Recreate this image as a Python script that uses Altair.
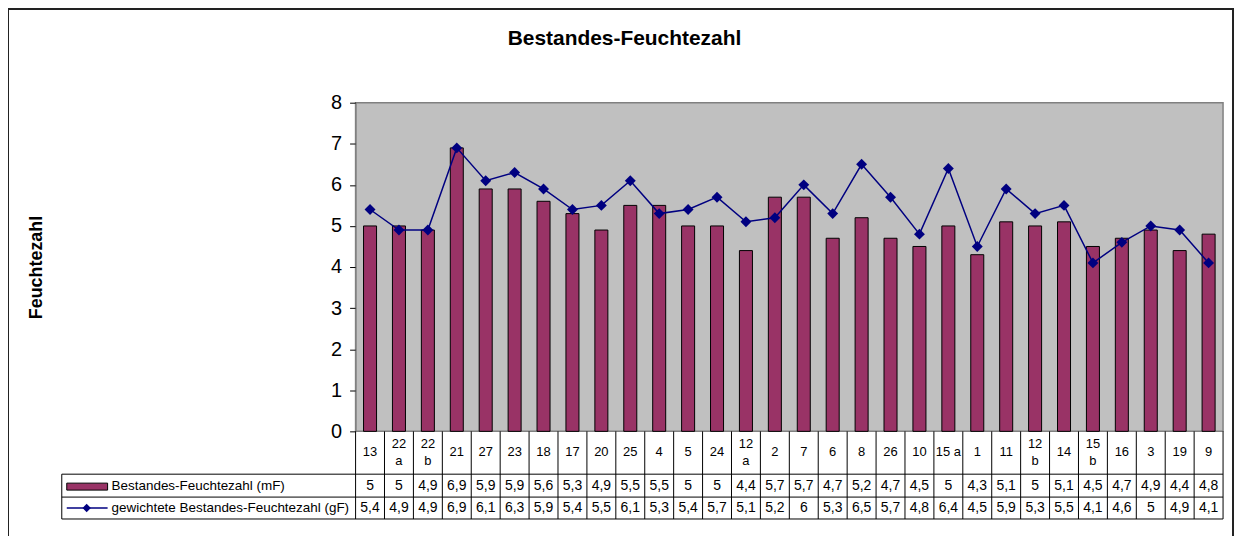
import altair as alt
import pandas as pd

# ---- data ----
categories = ["13", "22 a", "22 b", "21", "27", "23", "18", "17", "20", "25",
              "4", "5", "24", "12 a", "2", "7", "6", "8", "26", "10",
              "15 a", "1", "11", "12 b", "14", "15 b", "16", "3", "19", "9"]
category_labels = ["13", "22\na", "22\nb", "21", "27", "23", "18", "17", "20", "25",
                   "4", "5", "24", "12\na", "2", "7", "6", "8", "26", "10",
                   "15 a", "1", "11", "12\nb", "14", "15\nb", "16", "3", "19", "9"]
mF = [5, 5, 4.9, 6.9, 5.9, 5.9, 5.6, 5.3, 4.9, 5.5,
      5.5, 5, 5, 4.4, 5.7, 5.7, 4.7, 5.2, 4.7, 4.5,
      5, 4.3, 5.1, 5, 5.1, 4.5, 4.7, 4.9, 4.4, 4.8]
gF = [5.4, 4.9, 4.9, 6.9, 6.1, 6.3, 5.9, 5.4, 5.5, 6.1,
      5.3, 5.4, 5.7, 5.1, 5.2, 6, 5.3, 6.5, 5.7, 4.8,
      6.4, 4.5, 5.9, 5.3, 5.5, 4.1, 4.6, 5, 4.9, 4.1]
y_ticks = [0, 1, 2, 3, 4, 5, 6, 7, 8]

title_text = "Bestandes-Feuchtezahl"
y_title = "Feuchtezahl"
legend_mF = "Bestandes-Feuchtezahl (mF)"
legend_gF = "gewichtete Bestandes-Feuchtezahl (gF)"


def de(v):
    return f"{v:g}".replace(".", ",")


df = pd.DataFrame({
    "cat": categories,
    "label": category_labels,
    "mF": mF,
    "gF": gF,
    "mF_label": [de(v) for v in mF],
    "gF_label": [de(v) for v in gF],
})

FONT = "Liberation Sans"
W, H = 871, 330
PAD_I, PAD_O = 0.55, 0.275
step = W / (len(categories) - PAD_I + 2 * PAD_O)
BAR = "#993366"
NAVY = "#000080"

xscale = alt.Scale(domain=categories, paddingInner=PAD_I, paddingOuter=PAD_O)
xenc = alt.X("cat:N", sort=categories, scale=xscale, axis=None)
yscale = alt.Scale(domain=[0, 8], nice=False)

base = alt.Chart(df)

bars = base.mark_bar(fill=BAR, stroke="black", strokeWidth=1).encode(
    x=xenc,
    y=alt.Y("mF:Q", scale=yscale,
            axis=alt.Axis(values=y_ticks, grid=False, labelFontSize=20, labelFont=FONT,
                          labelColor="black", tickSize=6, tickColor="black",
                          labelPadding=8, domainColor="#808080",
                          title=y_title, titleFont=FONT, titleFontSize=18,
                          titleFontWeight="bold", titleColor="black",
                          titleX=-320, titleY=H / 2, titleAngle=270,
                          titleAlign="center", titleBaseline="middle")),
)

line = base.mark_line(color=NAVY, strokeWidth=1.5).encode(
    x=xenc, y=alt.Y("gF:Q", scale=yscale))
pts = base.mark_point(shape="diamond", filled=True, color=NAVY, size=120, opacity=1).encode(
    x=xenc, y=alt.Y("gF:Q", scale=yscale))

txt_kw = dict(font=FONT, color="black", align="center", baseline="middle")
cat_single = base.transform_filter("indexof(datum.label, '\\n') < 0").mark_text(
    fontSize=13, **txt_kw).encode(x=xenc, y=alt.value(351), text="label:N")
cat_multi = base.transform_filter("indexof(datum.label, '\\n') >= 0").mark_text(
    fontSize=13, lineBreak="\n", lineHeight=17, **txt_kw).encode(
    x=xenc, y=alt.value(343), text="label:N")
mF_txt = base.mark_text(fontSize=14, **txt_kw).encode(
    x=xenc, y=alt.value(385), text="mF_label:N")
gF_txt = base.mark_text(fontSize=14, **txt_kw).encode(
    x=xenc, y=alt.value(407), text="gF_label:N")

vlines = base.mark_rule(color="black", strokeWidth=1, xOffset=-PAD_O * step).encode(
    x=alt.X("cat:N", sort=categories, bandPosition=0, scale=xscale, axis=None),
    y=alt.value(H), y2=alt.value(418))

one = alt.Data(values=[{}])


def hrule(y, x0=-295, x1=W):
    return alt.Chart(one).mark_rule(color="black", strokeWidth=1).encode(
        x=alt.value(x0), x2=alt.value(x1), y=alt.value(y))


def vrule(x, y0, y1):
    return alt.Chart(one).mark_rule(color="black", strokeWidth=1).encode(
        x=alt.value(x), y=alt.value(y0), y2=alt.value(y1))


table_lines = [hrule(373), hrule(396), hrule(418), vrule(-295, 373, 418), vrule(W, H, 418)]

swatch = alt.Chart(one).mark_rect(fill=BAR, stroke="black", strokeWidth=1).encode(
    x=alt.value(-290), x2=alt.value(-249), y=alt.value(382), y2=alt.value(389))
leg_t1 = alt.Chart(one).mark_text(font=FONT, fontSize=13.5, align="left", baseline="middle",
                                  color="black").encode(
    x=alt.value(-245), y=alt.value(385), text=alt.value(legend_mF))
leg_line = alt.Chart(one).mark_rule(color=NAVY, strokeWidth=1.5).encode(
    x=alt.value(-290), x2=alt.value(-249), y=alt.value(407))
leg_pt = alt.Chart(one).mark_point(shape="diamond", filled=True, color=NAVY, size=70,
                                   opacity=1).encode(
    x=alt.value(-270), y=alt.value(407))
leg_t2 = alt.Chart(one).mark_text(font=FONT, fontSize=13.5, align="left", baseline="middle",
                                  color="black").encode(
    x=alt.value(-245), y=alt.value(407), text=alt.value(legend_gF))

title = alt.Chart(one).mark_text(font=FONT, fontSize=21, fontWeight="bold", align="center",
                                 baseline="alphabetic", color="black").encode(
    x=alt.value(270), y=alt.value(-58), text=alt.value(title_text))

frame = alt.Chart(one).mark_rect(fill=None, stroke="#222222", strokeWidth=2).encode(
    x=alt.value(-349), x2=alt.value(881), y=alt.value(-94), y2=alt.value(445))

chart = alt.layer(
    bars, line, pts, cat_single, cat_multi, mF_txt, gF_txt, vlines, *table_lines,
    swatch, leg_t1, leg_line, leg_pt, leg_t2, title, frame
).properties(
    width=W, height=H,
    padding={"left": 349, "top": 94, "right": 12, "bottom": 104},
    autosize=alt.AutoSizeParams(type="none"),
    background="white",
).configure_view(
    fill="#C0C0C0", stroke="#808080", strokeWidth=1.5
)

chart.save("out.html", embed_options={"renderer": "svg", "actions": False})
